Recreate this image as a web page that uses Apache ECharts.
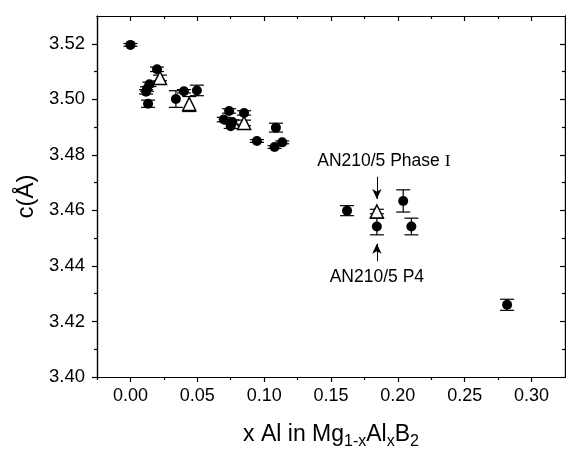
<!DOCTYPE html>
<html><head><meta charset="utf-8">
<script src="https://cdn.jsdelivr.net/npm/echarts@6/dist/echarts.min.js"></script>
<style>html,body{margin:0;padding:0;background:#fff}#c{width:566px;height:455px}</style>
</head><body><div id="c"></div>
<script>
// Filled circles: x Al, c (Å), error
const circleX   = [0.000, 0.0199, 0.0142, 0.0124, 0.0117, 0.0132, 0.034, 0.040, 0.0497, 0.0738, 0.0698, 0.0762, 0.075, 0.085, 0.0946, 0.1088, 0.1078, 0.1135, 0.162, 0.1843, 0.204, 0.2101, 0.2817];
const circleY   = [3.5196, 3.5108, 3.5054, 3.5037, 3.5027, 3.4984, 3.5001, 3.5029, 3.5032, 3.4958, 3.4927, 3.4918, 3.4903, 3.4951, 3.4850, 3.4898, 3.4828, 3.4845, 3.4599, 3.4542, 3.4634, 3.4542, 3.4260];
const circleErr = [0.0005, 0.0008, 0.0008, 0.0008, 0.0008, 0.0013, 0.003, 0.0006, 0.0019, 0.0008, 0.0008, 0.0008, 0.0008, 0.0008, 0.0005, 0.0016, 0.0005, 0.0005, 0.0018, 0.003, 0.004, 0.003, 0.002];
// Open triangles
const triX   = [0.0221, 0.044, 0.085, 0.1843];
const triY   = [3.5077, 3.4983, 3.4915, 3.4596];
const triErr = [0.001, 0.0027, 0.001, 0.0008];
// Tick values
const xMajor = [0, 0.05, 0.10, 0.15, 0.20, 0.25, 0.30];
const xMinor = [-0.025, 0.025, 0.075, 0.125, 0.175, 0.225, 0.275];
const yMajor = [3.40, 3.42, 3.44, 3.46, 3.48, 3.50, 3.52];
const yMinor = [3.41, 3.43, 3.45, 3.47, 3.49, 3.51];
// Annotations (data coordinates)
const annPhase = {text: 'AN210/5 Phase ', x: 0.1843, arrowFrom: 3.4721, arrowTo: 3.4641, textY: 3.4776};
const annP4    = {text: 'AN210/5 P4',     x: 0.1843, arrowFrom: 3.4417, arrowTo: 3.4480, textY: 3.4361};

const FONT = 'Liberation Sans, Arial, sans-serif';
const XMIN = -0.025, XMAX = 0.325, YMIN = 3.40, YMAX = 3.53;

function zip(a, b, c) { return a.map((v, i) => [v, b[i], c[i]]); }
const circleData = zip(circleX, circleY, circleErr);
const triData = zip(triX, triY, triErr);

function errRender(params, api) {
  const x = api.value(0), y = api.value(1), e = api.value(2);
  const t = api.coord([x, y + e]);
  const b = api.coord([x, y - e]);
  const w = 7;
  const st = {stroke: '#000', lineWidth: 1.2};
  return {type: 'group', children: [
    {type: 'line', shape: {x1: t[0], y1: t[1], x2: b[0], y2: b[1]}, style: st},
    {type: 'line', shape: {x1: t[0] - w, y1: t[1], x2: t[0] + w, y2: t[1]}, style: st},
    {type: 'line', shape: {x1: b[0] - w, y1: b[1], x2: b[0] + w, y2: b[1]}, style: st}
  ]};
}

const lineStyle = {color: '#000', width: 1.2};
function xAxisDef(pos, ticks, len, inside, labels) {
  return {
    type: 'value', position: pos, min: XMIN, max: XMAX,
    axisLine: {show: true, onZero: false, lineStyle: lineStyle},
    axisTick: {show: true, inside: inside, length: len, customValues: ticks, lineStyle: lineStyle},
    axisLabel: labels ? {show: true, customValues: xMajor, fontFamily: FONT, fontSize: 18, color: '#000', margin: 10,
      formatter: v => v.toFixed(2)} : {show: false},
    splitLine: {show: false}
  };
}
function yAxisDef(pos, ticks, len, inside, labels) {
  return {
    type: 'value', position: pos, min: YMIN, max: YMAX,
    axisLine: {show: true, onZero: false, lineStyle: lineStyle},
    axisTick: {show: true, inside: inside, length: len, customValues: ticks, lineStyle: lineStyle},
    axisLabel: labels ? {show: true, customValues: yMajor, fontFamily: FONT, fontSize: 18.5, color: '#000', margin: 12,
      formatter: v => v.toFixed(2)} : {show: false},
    splitLine: {show: false}
  };
}

const xa0 = xAxisDef('bottom', xMajor, 5, false, true);
xa0.name = '{n|x Al in Mg}{s|1-x}{n|Al}{s|x}{n|B}{s|2}';
xa0.nameLocation = 'middle';
xa0.nameGap = 43;
xa0.nameTextStyle = {rich: {
  n: {fontFamily: FONT, fontSize: 23, color: '#000', lineHeight: 26, verticalAlign: 'bottom'},
  s: {fontFamily: FONT, fontSize: 16, color: '#000', lineHeight: 16, verticalAlign: 'bottom', padding: [0, 0, -4, 0]}
}};
const ya0 = yAxisDef('left', yMajor, 5, false, true);
ya0.name = 'c(Å)';
ya0.nameLocation = 'middle';
ya0.nameGap = 53;
ya0.nameRotate = 90;
ya0.nameTextStyle = {fontFamily: FONT, fontSize: 24, color: '#000'};

const chart = echarts.init(document.getElementById('c'), null, {renderer: 'canvas'});
chart.setOption({
  backgroundColor: '#fff',
  animation: false,
  grid: {left: 97, right: 1, top: 16, bottom: 75, containLabel: false},
  xAxis: [
    xa0,
    xAxisDef('bottom', xMinor, 3, false, false),
    xAxisDef('top', xMajor, 5, true, false),
    xAxisDef('top', xMinor, 3, true, false)
  ],
  yAxis: [
    ya0,
    yAxisDef('left', yMinor, 3, false, false),
    yAxisDef('right', yMajor, 5, true, false),
    yAxisDef('right', yMinor, 3, true, false)
  ],
  series: [
    {type: 'custom', renderItem: errRender, data: circleData, xAxisIndex: 0, yAxisIndex: 0, z: 2, silent: true},
    {type: 'custom', renderItem: errRender, data: triData, xAxisIndex: 0, yAxisIndex: 0, z: 2, silent: true},
    {type: 'scatter', data: circleData, symbol: 'circle', symbolSize: 10, z: 3,
      itemStyle: {color: '#000', opacity: 1}, encode: {x: 0, y: 1}},
    {type: 'scatter', data: triData, symbol: 'triangle', symbolSize: 13, z: 4,
      itemStyle: {color: '#fff', borderColor: '#000', borderWidth: 1.5, opacity: 1}, encode: {x: 0, y: 1},
      markLine: {
        silent: true, symbol: ['none', 'arrow'], symbolSize: [7, 10],
        lineStyle: {color: '#000', width: 1, type: 'solid'}, label: {show: false},
        data: [
          [{coord: [annPhase.x, annPhase.arrowFrom]}, {coord: [annPhase.x, annPhase.arrowTo]}],
          [{coord: [annP4.x, annP4.arrowFrom]}, {coord: [annP4.x, annP4.arrowTo]}]
        ]
      }}
  ]
});

const pPhase = chart.convertToPixel({xAxisIndex: 0, yAxisIndex: 0}, [annPhase.x, annPhase.textY]);
const pP4 = chart.convertToPixel({xAxisIndex: 0, yAxisIndex: 0}, [annP4.x, annP4.textY]);
chart.setOption({
  graphic: [
    {type: 'text', x: pPhase[0] + 7, y: pPhase[1], z: 10,
      style: {text: '{a|' + annPhase.text + '}{b|I}', align: 'center', verticalAlign: 'middle',
        rich: {a: {fontFamily: FONT, fontSize: 17.5, fill: '#000'}, b: {fontFamily: 'Liberation Serif, serif', fontSize: 17.5, fill: '#000'}}}},
    {type: 'text', x: pP4[0], y: pP4[1], z: 10,
      style: {text: annP4.text, align: 'center', verticalAlign: 'middle', fontFamily: FONT, fontSize: 17.5, fill: '#000'}}
  ]
});
</script>
</body></html>
